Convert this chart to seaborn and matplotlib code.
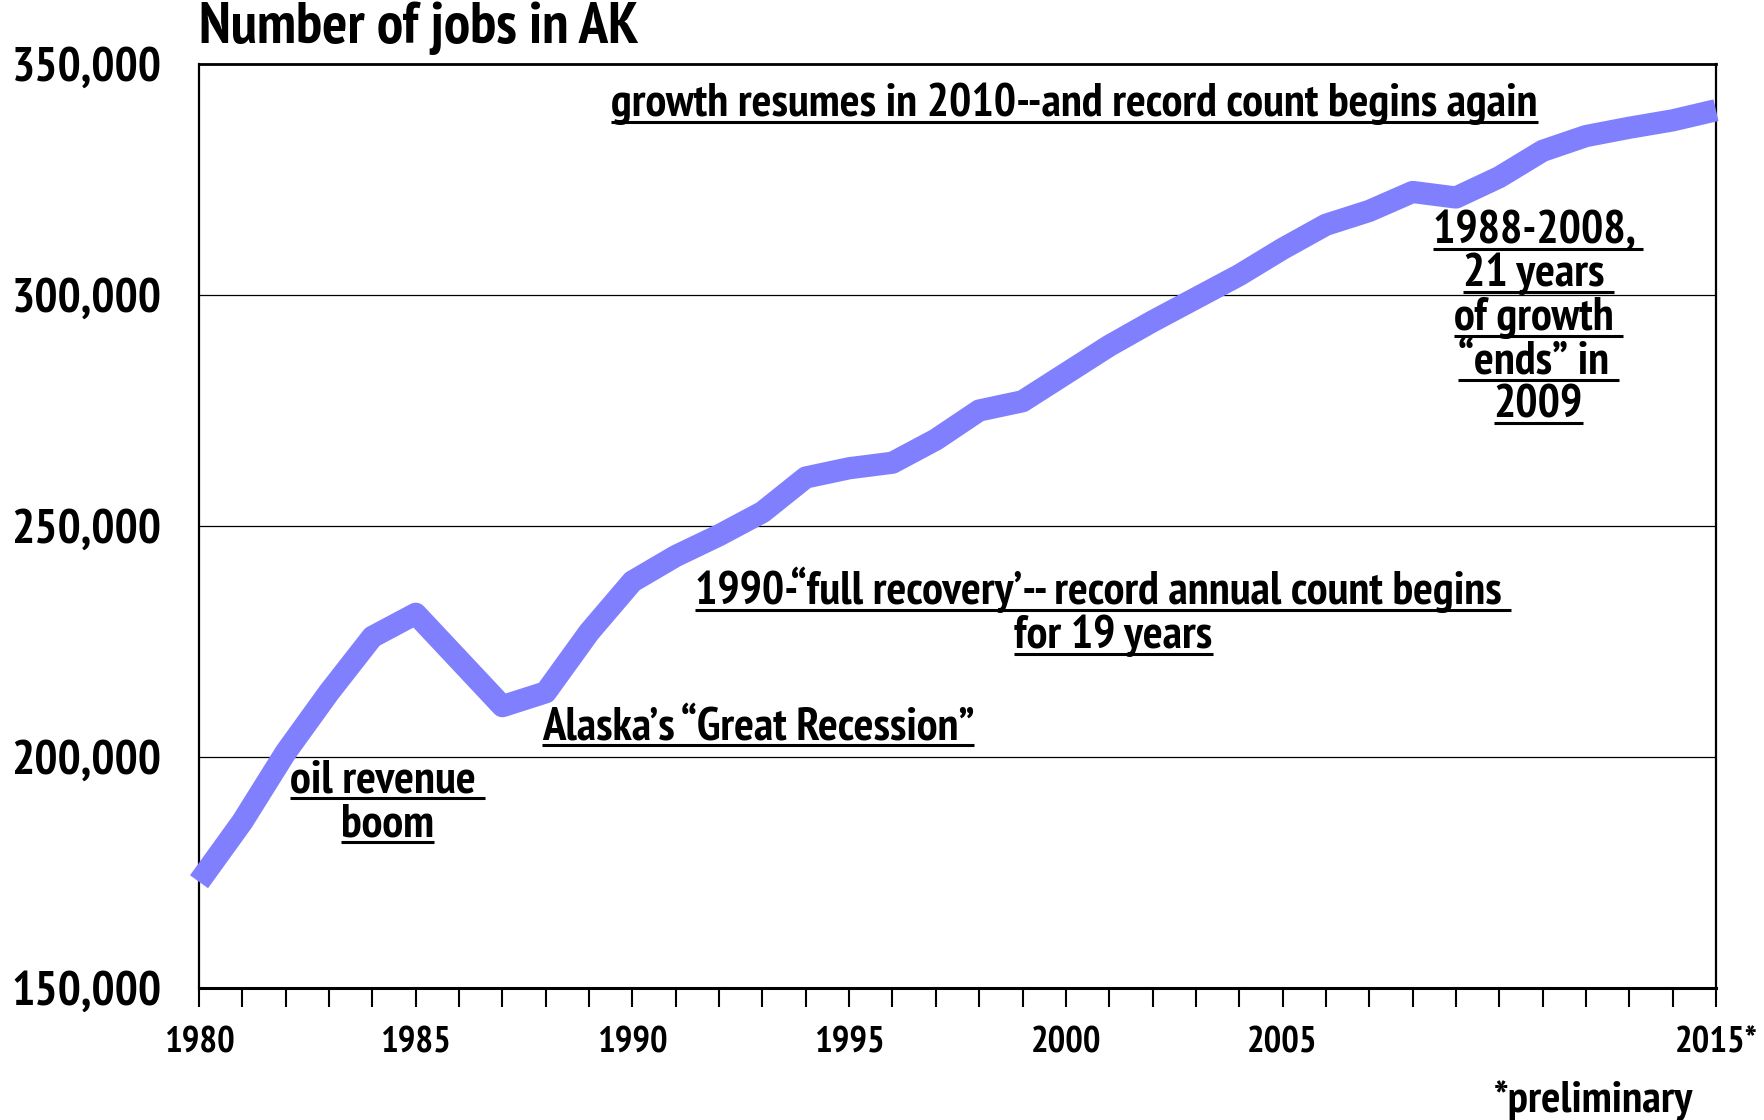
import matplotlib
matplotlib.use("Agg")
import matplotlib.pyplot as plt
from matplotlib import font_manager
from matplotlib.lines import Line2D
from matplotlib.transforms import IdentityTransform
from matplotlib.ticker import FuncFormatter, MultipleLocator
import seaborn as sns
import pandas as pd

# ---------------- data ----------------
years = list(range(1980, 2016))
jobs_thousands = [173, 186, 201, 214, 226, 231, 221, 211, 214, 227,
                  238, 243.5, 248, 253, 260.5, 262.5, 263.7, 268.7, 275, 277,
                  283, 289, 294.3, 299.3, 304.3, 310, 315.2, 318.2, 322.3, 321.1,
                  325.5, 331.2, 334.4, 336.2, 337.8, 340]
y_ticks = [150000, 200000, 250000, 300000, 350000]
x_label_years = [1980, 1985, 1990, 1995, 2000, 2005, 2015]
title_text = "Number of jobs in AK"
footnote_text = "*preliminary"

# annotations: lines, x center (years), baseline y per line
ann_growth = ["growth resumes in 2010--and record count begins again"]
ann_growth_pos = (2000.2, [338800])
ann_2008 = ["1988-2008, ", "21 years ", "of growth ", "\u201cends\u201d in ", "2009"]
ann_2008_pos = (2010.9, [311300, 302000, 292500, 283000, 273500])
ann_1990 = ["1990-\u201cfull recovery\u2019-- record annual count begins ", "for 19 years"]
ann_1990_pos = ([2000.85, 2001.1], [233100, 223600])
ann_recession = ["Alaska\u2019s \u201cGreat Recession\u201d"]
ann_recession_pos = (1992.9, [203800])
ann_oil = ["oil revenue ", "boom"]
ann_oil_pos = (1984.35, [192400, 182900])

df = pd.DataFrame({"year": years, "jobs": [v * 1000 for v in jobs_thousands]})

# ---------------- style ----------------
sns.set_theme(style="white")
weights = {}
for f in font_manager.fontManager.ttflist:
    w = f.weight if isinstance(f.weight, int) else 400
    if f.style == "normal":
        weights.setdefault(f.name, set()).add(w)
prefs = ["Arial Narrow", "Liberation Sans Narrow", "Archivo Narrow", "PT Sans Narrow",
         "Roboto Condensed", "Arimo", "Liberation Sans"]
fam = "Liberation Sans"
for p in prefs:
    if p in weights and max(weights[p]) >= 700:
        fam = p
        break
plt.rcParams["font.family"] = [fam, "DejaVu Sans"]
plt.rcParams["font.weight"] = "bold"

fig = plt.figure(figsize=(17.65, 11.2), dpi=100)
W, H = 1765, 1120
left, right, top, bottom = 199, 1716, 64, 988
ax = fig.add_axes([left / W, 1 - bottom / H, (right - left) / W, (bottom - top) / H])

sns.lineplot(data=df, x="year", y="jobs", ax=ax, color="#8080FF", linewidth=16,
             solid_capstyle="butt", solid_joinstyle="round", clip_on=False, zorder=3)

ax.set_xlim(1980, 2015)
ax.set_ylim(150000, 350000)
ax.set_yticks(y_ticks)
ax.yaxis.set_major_formatter(FuncFormatter(lambda v, p: f"{int(v):,}"))
ax.xaxis.set_major_locator(MultipleLocator(1))
ax.xaxis.set_major_formatter(FuncFormatter(
    lambda v, p: (f"{int(round(v))}*" if int(round(v)) == 2015 else str(int(round(v))))
    if int(round(v)) in x_label_years else ""))
ax.set_xlabel("")
ax.set_ylabel("")

for yv in y_ticks[1:-1]:
    ax.axhline(yv, color="black", lw=0.9, zorder=1)

for s in ["left", "right", "top"]:
    ax.spines[s].set_visible(True)
    ax.spines[s].set_color("black")
    ax.spines[s].set_linewidth(1.6)
ax.spines["bottom"].set_color("black")
ax.spines["bottom"].set_linewidth(2.2)
ax.spines["top"].set_linewidth(2.0)

ax.tick_params(axis="x", direction="out", length=14, width=1.5, color="black",
               pad=14, labelsize=28, bottom=True)
ax.tick_params(axis="y", length=0, pad=27, labelsize=32)

title = fig.text(left / W, 1 - 43 / H, title_text, fontsize=31, fontweight="bold",
                 ha="left", va="baseline", color="black")
foot = fig.text(1593 / W, 1 - 1112 / H, footnote_text, fontsize=28, fontweight="bold",
                ha="center", va="baseline", color="black")

texts = []
def add_block(lines, xs, ys, size=26):
    if not isinstance(xs, list):
        xs = [xs] * len(lines)
    for line, xx, yy in zip(lines, xs, ys):
        t = ax.text(xx, yy, line, fontsize=size, fontweight="bold", ha="center",
                    va="baseline", color="black", zorder=4)
        texts.append((t, xx, yy))

add_block(ann_growth, ann_growth_pos[0], ann_growth_pos[1])
add_block(ann_2008, ann_2008_pos[0], ann_2008_pos[1])
add_block(ann_1990, ann_1990_pos[0], ann_1990_pos[1])
add_block(ann_recession, ann_recession_pos[0], ann_recession_pos[1])
add_block(ann_oil, ann_oil_pos[0], ann_oil_pos[1])

# fit font sizes to the reference text widths (pixels)
fig.canvas.draw()
r = fig.canvas.get_renderer()
def width(t):
    return t.get_window_extent(renderer=r).width

k_ann = 926 / width(texts[0][0])
for t, _, _ in texts:
    t.set_fontsize(t.get_fontsize() * k_ann)
title.set_fontsize(title.get_fontsize() * 440 / width(title))
foot.set_fontsize(foot.get_fontsize() * 199 / width(foot))
ylab = [l for l in ax.get_yticklabels() if l.get_text() == "350,000"][0]
ax.tick_params(axis="y", labelsize=32 * 150 / width(ylab))
xlab = [l for l in ax.get_xticklabels() if l.get_text() == "1980"][0]
ax.tick_params(axis="x", labelsize=28 * 71 / width(xlab))
for lab in ax.get_xticklabels() + ax.get_yticklabels():
    lab.set_fontweight("bold")
    lab.set_color("black")

fig.canvas.draw()
for t, xx, yy in texts:
    bb = t.get_window_extent(renderer=r)
    yb = ax.transData.transform((xx, yy))[1]
    yu = yb - 6
    fig.add_artist(Line2D([bb.x0, bb.x1], [yu, yu], transform=IdentityTransform(),
                          color="black", lw=2.2, solid_capstyle="butt"))

fig.savefig("out.png", dpi=100, facecolor="white")
